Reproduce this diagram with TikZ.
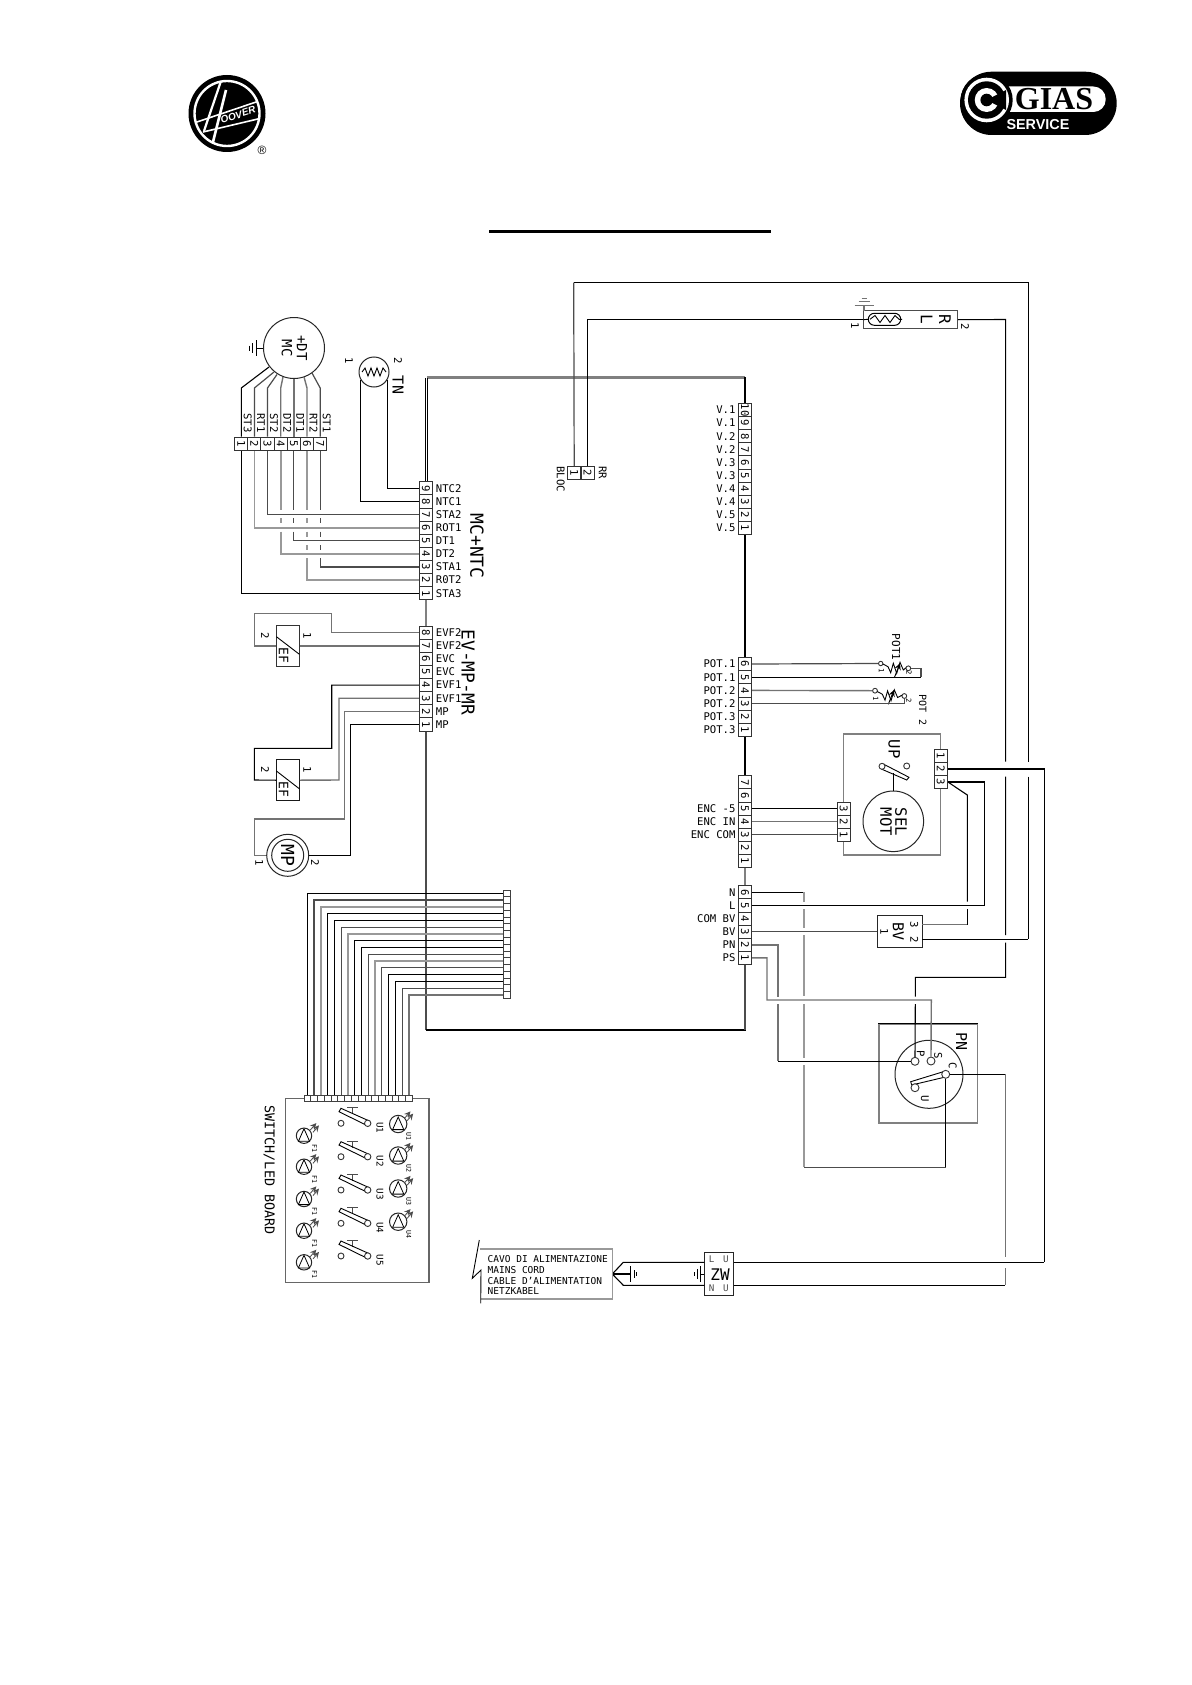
\documentclass[tikz,border=0pt]{standalone}
\usepackage{fontspec}
\setmainfont{DejaVu Sans Mono}
\newfontfamily\logoserif{Liberation Serif}
\newfontfamily\logosans{Liberation Sans}
\tikzset{
  txt/.style={inner sep=0,font=\fontsize{#1}{#1}\selectfont},
  lab/.style={txt=5.3},
  rt/.style={rotate=-90},
  wk/.style={draw=black,line width=.55pt},
  wd/.style={draw=black!70,line width=.6pt},
  wg/.style={draw=black!55,line width=.7pt},
  wl/.style={draw=black!40,line width=.85pt},
  pinbox/.style={draw=black!80,line width=.45pt,fill=white,inner sep=0,minimum width=6.65pt,minimum height=6.55pt,txt=5.3},
  smallpin/.style={draw=black!75,line width=.35pt,fill=white,inner sep=0},
  term/.style={circle,draw=black!80,line width=.45pt,fill=white,inner sep=0,minimum size=#1},
  ring/.style={circle,draw=black!85,line width=.5pt,inner sep=0,minimum size=#1},
  busg/.style={draw=black!50,line width=1.15pt},
  busd/.style={draw=black!70,line width=1.15pt},
  busk/.style={draw=black,line width=1.1pt},
  >=stealth
}
\newcommand{\pinv}[3]{\foreach \y/\n in {#3} \node[pinbox] (#1\n) at (#2,\y) {\rotatebox{-90}{\n}};}
\newcommand{\pinh}[3]{\foreach \x/\n in {#3} \node[pinbox] (#1\n) at (\x,#2) {\rotatebox{-90}{\n}};}
\newcommand{\labr}[2]{\foreach \n/\s in {#2} \node[lab,anchor=west,xshift=1.2pt] (t#1\n) at (#1\n.east) {\s};}
\newcommand{\labl}[2]{\foreach \n/\s in {#2} \node[lab,anchor=east,xshift=-1pt] (t#1\n) at (#1\n.west) {\s};}
\newcommand{\swsym}[3]{%
  \begin{scope}[shift={(#1,#2)}]
    \draw[wd,line width=.45pt] (6,-15.6) -- (17.3,-15.6) (11.7,-15.6) -- (11.7,-9);
    \draw[wk,line width=.45pt] (0,-15) -- (28.3,-2.3) -- (25,1.7) -- (-2,-11.6) -- cycle;
    \node[term=3pt] (sa#3) at (0,0) {};
    \node[term=3.2pt] (sb#3) at (26.7,0) {};
    \node[txt=4.6,rt] (st#3) at (39,4.5) {U#3};
  \end{scope}}
\newcommand{\ledsym}[5]{%
  \begin{scope}[shift={(#1,#2)}]
    \node[ring=#3] (#4) at (0,0) {};
    \draw[wk,line width=.4pt] (0,-7) -- (-5.6,5.6) -- (5.6,5.6) -- cycle;
    \draw[wd,line width=.4pt,->] (6.2,-5.6) -- (12.3,-12.6);
    \draw[wd,line width=.4pt,->] (9,-3.4) -- (15,-10.4);
    \node[txt=3.3,rt] (#4t) at (10.5,12.5) {#5};
  \end{scope}}
\begin{document}
\begin{tikzpicture}[x=.5pt,y=-.5pt]
\useasboundingbox (0,0) rectangle (1191,1685);
\fill[white] (0,0) rectangle (1191,1685);

% ---- Hoover logo
\begin{scope}
  \node[circle,fill=black,minimum size=38.5pt,inner sep=0] (hv) at (227,113.5) {};
  \node[circle,draw=white,line width=1.2pt,minimum size=32.5pt,inner sep=0] (hvr) at (227,113.5) {};
  \clip (227,113.5) circle (32);
  \draw[white,line width=1.1pt] (221,81) -- (204,131);
  \draw[white,line width=1.3pt] (226,90) -- (212,146);
  \draw[white,line width=.8pt] (194,123) -- (262,100);
  \draw[white,line width=.8pt] (203,132) -- (262,118);
\end{scope}
\node[inner sep=0,rotate=18,font=\logosans\bfseries\itshape\fontsize{5}{5}\selectfont,text=white] (hvt) at (238,115) {OOVER};
\node[inner sep=0,font=\logosans\fontsize{6}{6}\selectfont] (hvreg) at (262,150) {®};

% ---- GIAS logo
\fill[black,rounded corners=15.8pt] (960,71.7) rectangle (1116.7,135);
\fill[white,rounded corners=6.2pt] (990,86.5) rectangle (1105.7,112);
\fill[black] (986.7,100) circle (26);
\fill[white] (986.7,100) circle (22.3);
\fill[black] (986.7,100) circle (18.7);
\fill[white] (986.7,100) circle (12);
\fill[black] (986.7,100) -- (1006,90) -- (1006,110) -- cycle;
\fill[black] (986.7,100) circle (6.3);
\node[inner sep=0,font=\logoserif\bfseries\fontsize{16}{16}\selectfont] (gias) at (1054,99.5) {GIAS};
\node[inner sep=0,text=white,font=\logosans\bfseries\fontsize{7.2}{7.2}\selectfont] (srv) at (1038,125) {SERVICE};

% ---- title rule
\draw[line width=1.5pt] (489,231.5) -- (771,231.5);

% ---- board outline
\draw[busg] (427,377.5) -- (745,377.5);
\draw[wk,line width=.5pt] (425.3,378) -- (425.3,482) (427.8,378) -- (427.8,482);
\draw[busg] (426,600) -- (426,627);
\draw[busd] (426,731) -- (426,1030);
\draw[busk] (425.5,1030) -- (745.6,1030);
\draw[busk] (745,377) -- (745,404);
\draw[busk] (745,534) -- (745,658);
\draw[busk] (745,736) -- (745,776);
\draw[busg] (745,867) -- (745,886);
\draw[busd] (745,964) -- (745,1030);

% ---- connectors on the board
\pinv{L}{426}{488.3/9,501.4/8,514.6/7,527.7/6,540.8/5,554/4,567/3,580.1/2,593.2/1}
\labr{L}{9/NTC2,8/NTC1,7/STA2,6/ROT1,5/DT1,4/DT2,3/STA1,2/R0T2,1/STA3}
\node[txt=9,rt] (mcntc) at (477,546) {MC+NTC};
\pinv{E}{426}{632.7/8,645.8/7,658.9/6,672/5,685.1/4,698.2/3,711.3/2,724.4/1}
\labr{E}{8/EVF2,7/EVF2,6/EVC,5/EVC,4/EVF1,3/EVF1,2/MP,1/MP}
\node[txt=8.9,rt] (evmp) at (468,672.5) {EV-MP-MR};
\pinv{V}{745}{410/10,423.1/9,436.2/8,449.3/7,462.4/6,475.5/5,488.6/4,501.7/3,514.8/2,527.9/1}
\labl{V}{10/V.1,9/V.1,8/V.2,7/V.2,6/V.3,5/V.3,4/V.4,3/V.4,2/V.5,1/V.5}
\pinv{P}{745}{664/6,677.2/5,690.4/4,703.5/3,716.6/2,729.7/1}
\labl{P}{6/POT.1,5/POT.1,4/POT.2,3/POT.2,2/POT.3,1/POT.3}
\pinv{N}{745}{782.3/7,795.4/6,808.6/5,821.7/4,834.8/3,848/2,861/1}
\labl{N}{5/ENC -5,4/ENC IN,3/ENC COM}
\pinv{Q}{745}{892.3/6,905.4/5,918.6/4,931.7/3,944.8/2,957.9/1}
\labl{Q}{6/N,5/L,4/COM BV,3/BV,2/PN,1/PS}

% ---- motor MC
\node[ring=30.5pt] (mc) at (294,348) {};
\node[txt=7,rt] (mcdt) at (302,348) {+DT};
\node[txt=7,rt] (mcmc) at (287,348) {MC};
\draw[wk,line width=.45pt] (mc.west) -- (256.7,348) (256.7,340) -- (256.7,356);
\draw[wk,line width=.45pt] (252.7,343) -- (252.7,353) (249,345.5) -- (249,350.5);
\pinh{M}{443.5}{241.3/1,254.4/2,267.5/3,280.7/4,293.8/5,307/6,320.2/7}
\foreach \n/\s/\p in {1/ST3/247.8,2/RT1/260.9,3/ST2/274,4/DT2/287.2,5/DT1/300.3,6/RT2/313.5,7/ST1/326.7}
  \node[txt=5.3,rt] (tM\n) at (\p,423) {\s};
\draw[wk] (M1.north) -- (241.3,388) -- (269,367);
\draw[wd] (M2.north) -- (254.4,388) -- (274,372);
\draw[wd] (M3.north) -- (267.5,388) -- (277,374.5);
\draw[wg] (M4.north) -- (280.7,388) -- (283,377);
\draw[wg] (M5.north) -- (293.8,378.5);
\draw[wg] (M6.north) -- (307,388) -- (304,377);
\draw[wd] (M7.north) -- (320.2,388) -- (312,373);
\draw[wk] (L1.west) -| (M1.south);
\draw[wl] (L6.west) -| (M2.south);
\draw[wd] (L7.west) -| (M3.south);
\draw[wl] (M4.south) -- (280.7,510) (280.7,518.3) -- (280.7,523.3) (280.7,531.7) |- (L4.west);
\draw[wd] (M5.south) -- (293.8,510) (293.8,518.3) -- (293.8,523.3) (293.8,531.7) |- (L5.west);
\draw[wl] (M6.south) -- (307,510) (307,518.3) -- (307,523.3) (307,531.7) -- (307,537) (307,545) -- (307,550) (307,558.3) |- (L2.west);
\draw[wd] (M7.south) -- (320.2,510) (320.2,518.3) -- (320.2,523.3) (320.2,531.7) -- (320.2,537) (320.2,545) -- (320.2,550) (320.2,558.3) |- (L3.west);

% ---- TN
\node[ring=15pt] (tn) at (374,372) {};
\draw[wk,line width=.45pt] (362,372) -- (365,368) -- (368,376) -- (371,368) -- (374,376) -- (377,368) -- (380,376) -- (383,368) -- (386,372);
\node[lab] (tn1) at (349,361) {\rotatebox{-90}{1}};
\node[lab] (tn2) at (398,361) {\rotatebox{-90}{2}};
\node[txt=7.5,rt] (tnt) at (398,385) {TN};
\draw[wk] (L9.west) -| (tn.-30);
\draw[wk] (L8.west) -| (tn.210);

% ---- EF 1
\node[draw=black!80,line width=.5pt,minimum width=11.3pt,minimum height=20.5pt,inner sep=0] (ef1) at (288,645.5) {};
\draw[wk,line width=.45pt] (276.4,636.7) -- (299.4,654.3);
\node[txt=6.5,rt] (ef1t) at (283.5,655) {EF};
\node[lab] (ef1a) at (265,636) {\rotatebox{-90}{2}};
\node[lab] (ef1b) at (307.3,636) {\rotatebox{-90}{1}};
\draw[wg] (E7.west) -- (ef1.east |- E7.west);
\draw[wg] (ef1.west |- E7.west) -- (254.3,645.8) -- (254.3,613.7) -- (331.7,613.7) -- (331.7,632.7) -- (E8.west);

% ---- EF 2
\node[draw=black!90,line width=.5pt,minimum width=11.3pt,minimum height=20.5pt,inner sep=0] (ef2) at (288,780.2) {};
\draw[wk,line width=.45pt] (276.4,771) -- (299.4,788.8);
\node[txt=6.5,rt] (ef2t) at (283.5,789.5) {EF};
\node[lab] (ef2a) at (265,770) {\rotatebox{-90}{2}};
\node[lab] (ef2b) at (307.3,770) {\rotatebox{-90}{1}};
\draw[wg] (E3.west) -- (339,698.2) -- (339,780) -- (ef2.east);
\draw[wk] (E4.west) -- (331.7,685.1) -- (331.7,748.3) -- (254.3,748.3) -- (254.3,780) -- (ef2.west);

% ---- MP
\node[ring=21pt] (mpo) at (287.7,855.3) {};
\node[ring=16pt,txt=9,rt] (mpi) at (287.7,855.3) {MP};
\node[lab] (mp1) at (259.3,862.7) {\rotatebox{-90}{1}};
\node[lab] (mp2) at (315,862.7) {\rotatebox{-90}{2}};
\draw[wg] (E2.west) -- (344.7,711.3) -- (344.7,819) -- (254.3,819) -- (254.3,855.3) -- (mpo.west);
\draw[wk] (E1.west) -| (350.3,855.3) -- (mpo.east);

% ---- 16-way ribbon and switch board
\node[draw=black!60,line width=.6pt,minimum width=71.65pt,minimum height=92.2pt,inner sep=0] (sb) at (357.4,1190.5) {};
\node[txt=6.7,rt] (sbt) at (269.3,1170) {SWITCH/LED BOARD};
\foreach \i/\c in {0/wk,1/wd,2/wl,3/wk,4/wk,5/wd,6/wl,7/wk,8/wk,9/wd,10/wl,11/wd,12/wk,13/wk,14/wd,15/wg}{
  \pgfmathsetmacro{\bx}{307.3+6.78*\i}
  \pgfmathsetmacro{\by}{893.3+6.78*\i}
  \node[smallpin,minimum width=3.39pt,minimum height=3.4pt] (B\i) at (\bx,1098.3) {};
  \node[smallpin,minimum width=3.5pt,minimum height=3.39pt] (K\i) at (506.8,\by) {};
  \draw[\c] (K\i.west) -| (B\i.north);
}
\swsym{341}{1123.3}{1}
\swsym{341}{1156.7}{2}
\swsym{341}{1190}{3}
\swsym{341}{1223.3}{4}
\swsym{341}{1256}{5}
\ledsym{398.2}{1124}{8.7pt}{lu1}{U1}
\ledsym{398.2}{1155.5}{8.7pt}{lu2}{U2}
\ledsym{398.2}{1188.5}{8.7pt}{lu3}{U3}
\ledsym{398.2}{1221.7}{8.7pt}{lu4}{U4}
\ledsym{304}{1135.7}{7.7pt}{lf1}{F1}
\ledsym{304}{1166.7}{7.7pt}{lf2}{F1}
\ledsym{304}{1199}{7.7pt}{lf3}{F1}
\ledsym{304}{1230.7}{7.7pt}{lf4}{F1}
\ledsym{304}{1262.3}{7.7pt}{lf5}{F1}

% ---- BLOC / RR
\node[pinbox] (BL1) at (574.2,473) {\rotatebox{-90}{1}};
\node[pinbox] (BL2) at (587.6,473) {\rotatebox{-90}{2}};
\node[txt=5.3,rt] (blt) at (560.7,479) {BLOC};
\node[txt=5.3,rt] (rrt) at (602.7,472.7) {RR};

% ---- R L heater
\node[draw=black!70,line width=.5pt,minimum width=46.65pt,minimum height=9pt,inner sep=0] (rl) at (910.6,319.7) {};
\node[draw=black,line width=.5pt,minimum width=16.2pt,minimum height=6pt,rounded corners=3pt,inner sep=0] (pill) at (884.5,319.3) {};
\draw[wk,line width=.45pt] (870,319.3) -- (875,315.5) -- (880,322.5) -- (885,315.5) -- (890,322.5) -- (895,315.5) -- (899,319.3) -- (902,319.3);
\draw[wk,line width=.45pt] (rl.west) -- (pill.west);
\node[txt=8,rt] (rlr) at (945,319.3) {R};
\node[txt=8,rt] (rll) at (926.7,319.3) {L};
\node[lab] (rl1) at (855,325.7) {\rotatebox{-90}{1}};
\node[lab] (rl2) at (965,326.7) {\rotatebox{-90}{2}};
\draw[wg] (864,311) -- (864,305.3) (854.5,305.3) -- (873.5,305.3) (858.5,301.7) -- (869.5,301.7) (861.5,298.3) -- (866.5,298.3);
\draw[wk] (BL2.north) |- (rl.west);
\draw[wd] (BL1.north) -- (573.7,282.7);
\draw[wk] (573.7,282.7) -- (1028.3,282.7) -- (1028.3,761.7) (1028.3,776.7) -- (1028.3,939.3);

% ---- POTs
\node[term=2.2pt] (pa) at (880.7,663.5) {};
\node[term=2.4pt] (pb) at (908.3,668.3) {};
\node[term=2.4pt] (pc) at (875,690.7) {};
\node[term=2.4pt] (pd) at (904.3,696) {};
\draw[wk,line width=.45pt] (883,664) -- (888,666.7) -- (890.7,672.7) -- (893.3,663.3) -- (896.7,673.3) -- (900,662.3) -- (903.3,670) -- (906,667.7);
\draw[wk,line width=.45pt] (877.3,691.5) -- (882.3,694.2) -- (885,700.2) -- (887.6,690.8) -- (891,700.8) -- (894.3,689.8) -- (897.6,697.5) -- (902,695.2);
\draw[wk,line width=.45pt,->] (894.3,677.7) -- (900,663.3);
\draw[wk,line width=.45pt,->] (888.3,704.3) -- (894,690);
\draw[wd] (P6.east) -- (pa.west);
\draw[wk] (P5.east) -- (921,677.2);
\draw[wd] (921,677.2) -- (921,668.3) -- (pb.east);
\draw[wg] (P4.east) -- (pc.west);
\draw[wd] (P3.east) -- (904.3,703.5) -- (pd.south);
\node[txt=3.6] (pa1) at (881.5,671) {\rotatebox{-90}{1}};
\node[txt=3.6] (pb2) at (909,672.5) {\rotatebox{-90}{2}};
\node[txt=3.6] (pc1) at (875.7,698.7) {\rotatebox{-90}{1}};
\node[txt=3.6] (pd2) at (908.7,701) {\rotatebox{-90}{2}};
\node[txt=5.5,rt] (pot1) at (896,647) {POT1};
\node[txt=5,rt] (pot2) at (922.7,710) {POT 2};

% ---- SEL MOT
\node[draw=black!50,line width=.7pt,minimum width=48.5pt,minimum height=60.5pt,inner sep=0] (selb) at (892.2,794.5) {};
\node[ring=30.3pt] (selm) at (893.3,821.3) {};
\node[txt=7.8,rt] (sel1) at (901,821.7) {SEL};
\node[txt=7.8,rt] (sel2) at (886,821.7) {MOT};
\node[txt=7.8,rt] (up) at (894.3,749.3) {UP};
\draw[wk,line width=.45pt] (883.3,764) -- (909,777.3) -- (906.7,780) -- (881.3,769);
\node[term=3pt] (sw1) at (882,766.3) {};
\node[term=3pt] (sw2) at (906.7,766) {};
\draw[wk,line width=.45pt] (selm.north) -- (893.3,773);
\pinv{S}{843.8}{808.6/3,821.7/2,834.8/1}
\pinv{T}{940.8}{756/1,769/2,782/3}
\draw[wk] (N5.east) -- (S3.west);
\draw[wg] (N4.east) -- (S2.west);
\draw[wd] (N3.east) -- (S1.west);

% ---- BV
\node[draw=black!85,line width=.5pt,minimum width=22.5pt,minimum height=16pt,inner sep=0] (bv) at (899.8,931.7) {};
\node[txt=7.5,rt] (bvt) at (898.3,931.7) {BV};
\node[lab] (bv3) at (914.3,924.3) {\rotatebox{-90}{3}};
\node[lab] (bv2) at (914.3,939.3) {\rotatebox{-90}{2}};
\node[lab] (bv1) at (884.3,931.7) {\rotatebox{-90}{1}};
\draw[wd] (Q3.east) -- (bv.west);
\draw[wk] (Q5.east) -- (984.3,905.4) -- (984.3,782) -- (T3.east);
\draw[wk] (T3.east) -- (967.3,795) -- (967.3,901.7);
\draw[wk] (967.3,909.3) -- (967.3,924.7);
\draw[wg] (967.3,924.7) -- (922.3,924.7);
\draw[wk] (922.3,939.3) -- (1028.3,939.3);
\draw[wk] (T2.east) -- (1044.3,769) -- (1044.3,1262.3);

% ---- PN
\node[draw=black!50,line width=.75pt,minimum width=49.3pt,minimum height=49.3pt,inner sep=0] (pnb) at (928.4,1073.7) {};
\draw[wk,line width=.5pt] (pnb.north west) -- (pnb.north east);
\node[ring=34pt] (pnc) at (929,1074.3) {};
\draw[wk,line width=.45pt] (943.3,1071.7) -- (910.7,1081.7) -- (911.7,1085) -- (946.7,1076.7);
\node[term=4pt] (pP) at (915,1061.3) {};
\node[term=4pt] (pS) at (931,1061) {};
\node[term=4pt] (pC) at (945.7,1074.3) {};
\node[term=4pt] (pU) at (915,1087.7) {};
\node[lab,rt] (tP) at (920.7,1054) {P};
\node[lab,rt] (tS) at (938.3,1055.7) {S};
\node[lab,rt] (tC) at (952.7,1065.7) {C};
\node[lab,rt] (tU) at (925,1098.3) {U};
\node[txt=7.5,rt] (tPN) at (961.7,1041.7) {PN};
\draw[wg] (Q1.east) -- (767,957.9) -- (767,1000) -- (931.3,1000) -- (pS.north);
\draw[wg] (Q2.east) -- (778,944.8) -- (778,996.7) (778,1004) -- (778,1061.3);
\draw[wk] (778,1061.3) -- (pP.west);
\draw[wk] (Q6.east) -- (804,892.3);
\draw[wl] (804,892.3) -- (804,901.7) (804,909.3) -- (804,928) (804,935) -- (804,996) (804,1004) -- (804,1058) (804,1065.3) -- (804,1167.3);
\draw[wd] (804,1167.3) -- (945.7,1167.3);
\draw[wk] (945.7,1167.3) -- (pC.south);
\draw[wk] (rl.east) -- (1005.6,319.5) -- (1005.6,761.7) (1005.6,776.7) -- (1005.6,935) (1005.6,942.7) -- (1005.6,977.3) -- (915.3,977.3) -- (915.3,996.7) (915.3,1004) -- (pP.north);
\draw[wk] (pC.east) -- (1005.3,1074.3);
\draw[wg] (1005.3,1074.3) -- (1005.3,1256.7) (1005.3,1268.3) -- (1005.3,1285.3);

% ---- ZW and mains cord
\node[draw=black!85,line width=.5pt,minimum width=14.7pt,minimum height=21.7pt,inner sep=0] (zw) at (719,1274) {};
\node[txt=8] (zwt) at (720,1274.3) {ZW};
\node[txt=4.6,text=black!70] (zl) at (711.7,1259.3) {L};
\node[txt=4.6,text=black!70] (zu) at (726,1259.3) {U};
\node[txt=4.6,text=black!70] (zn) at (711.7,1288) {N};
\node[txt=4.6,text=black!70] (zv) at (726,1288) {U};
\coordinate (cw) at (612.3,1274);
\draw[wk] (733.7,1262.3) -- (1044.3,1262.3);
\draw[wk] (733.7,1285.3) -- (1005.3,1285.3);
\draw[wk] (704.3,1262.3) -- (623.3,1262.3) -- (cw);
\draw[wk] (704.3,1285.3) -- (623.3,1285.3) -- (cw);
\draw[wk] (cw) -- (630.7,1274) (630.7,1266) -- (630.7,1282);
\draw[wk,line width=.4pt] (634,1270) -- (634,1278) (636.7,1272) -- (636.7,1276);
\draw[wk,line width=.45pt] (704.3,1274) -- (700,1274) (700,1266) -- (700,1282) (697.3,1269) -- (697.3,1279) (694.3,1272) -- (694.3,1276);
\draw[wl,line width=.6pt] (480,1249) -- (612.3,1249) -- (612.3,1299) -- (481,1299);
\draw[wk,line width=.45pt] (479.3,1240) -- (472.3,1278.3) -- (481,1270) -- (480.7,1303.3);
\node[txt=4.75,anchor=west] (c1) at (487.3,1259) {CAVO DI ALIMENTAZIONE};
\node[txt=4.75,anchor=west] (c2) at (487.3,1270) {MAINS CORD};
\node[txt=4.75,anchor=west] (c3) at (487.3,1280.7) {CABLE D'ALIMENTATION};
\node[txt=4.75,anchor=west] (c4) at (487.3,1291.3) {NETZKABEL};
\end{tikzpicture}
\end{document}
